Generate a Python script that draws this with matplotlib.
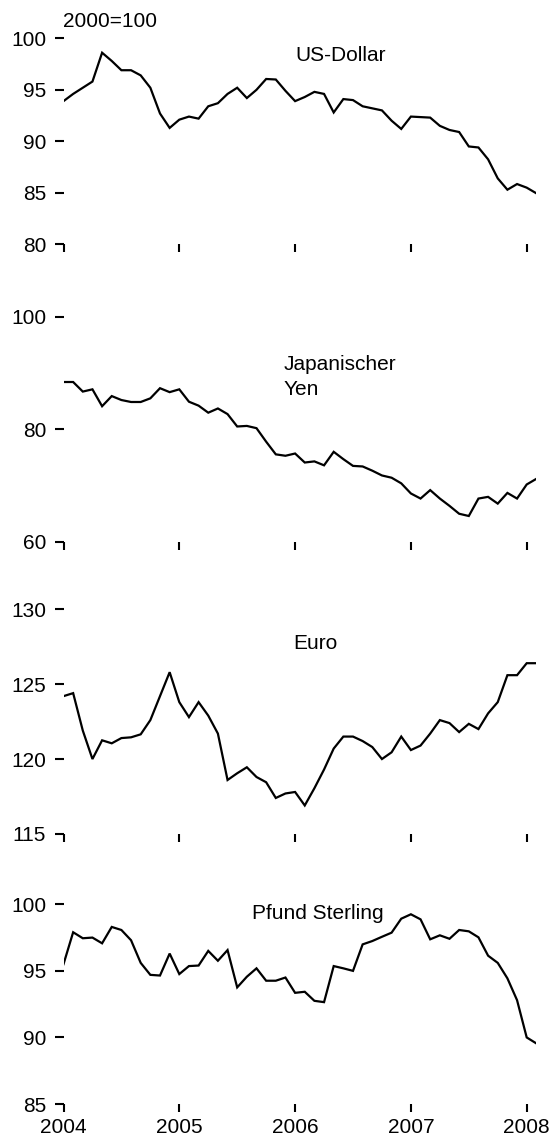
# Effektive Wechselkurse 2004-2008, vier Panels untereinander
import numpy as np
import matplotlib
matplotlib.use('Agg')
import matplotlib.pyplot as plt

plt.rcParams['font.family'] = ['Liberation Sans', 'DejaVu Sans']

# Monatswerte Jan 2004 - Feb 2008 (2000=100)
months = np.arange(50)
usd = [93.9, 94.6, 95.2, 95.8, 98.6, 97.8, 96.9, 96.9, 96.4, 95.2,
       92.7, 91.3, 92.1, 92.4, 92.2, 93.4, 93.7, 94.6, 95.2, 94.2,
       95.0, 96.05, 96.0, 94.9, 93.9, 94.3, 94.8, 94.6, 92.8, 94.1,
       94.0, 93.4, 93.2, 93.0, 92.0, 91.2, 92.4, 92.35, 92.3, 91.5,
       91.1, 90.9, 89.5, 89.4, 88.25, 86.4, 85.3, 85.85, 85.5, 84.95]
yen = [88.4, 88.4, 86.7, 87.1, 84.1, 85.9, 85.2, 84.85, 84.85, 85.5,
       87.3, 86.6, 87.1, 84.9, 84.2, 82.95, 83.7, 82.7, 80.5, 80.6,
       80.2, 77.8, 75.55, 75.3, 75.7, 74.1, 74.3, 73.6, 76.0, 74.7,
       73.5, 73.4, 72.65, 71.8, 71.4, 70.4, 68.6, 67.7, 69.2, 67.7,
       66.4, 65.0, 64.6, 67.7, 68.0, 66.8, 68.7, 67.7, 70.2, 71.2]
eur = [124.2, 124.4, 121.9, 120.0, 121.25, 121.05, 121.4, 121.45, 121.65, 122.6,
       124.2, 125.8, 123.8, 122.8, 123.8, 122.9, 121.7, 118.6, 119.05, 119.45,
       118.8, 118.45, 117.4, 117.7, 117.8, 116.9, 118.05, 119.3, 120.7, 121.5,
       121.5, 121.2, 120.8, 120.0, 120.45, 121.5, 120.6, 120.9, 121.7, 122.6,
       122.4, 121.8, 122.35, 122.0, 123.05, 123.8, 125.6, 125.6, 126.4, 126.4]
gbp = [95.5, 97.9, 97.45, 97.5, 97.07, 98.3, 98.07, 97.3, 95.6, 94.7,
       94.65, 96.3, 94.76, 95.36, 95.4, 96.5, 95.76, 96.56, 93.76, 94.56,
       95.19, 94.26, 94.26, 94.5, 93.35, 93.43, 92.75, 92.65, 95.36, 95.19,
       95.0, 96.99, 97.24, 97.56, 97.87, 98.92, 99.25, 98.87, 97.37, 97.67,
       97.41, 98.07, 97.97, 97.52, 96.14, 95.6, 94.44, 92.8, 90.0, 89.55]

years = [2004, 2005, 2006, 2007, 2008]

# Panel: Daten, y-Ticks, Beschriftung (Text, x, y)
panels = [
    (usd, [80, 85, 90, 95, 100], 'US-Dollar', 2006.0, 98.3),
    (yen, [60, 80, 100], 'Japanischer\nYen', 2005.9, 89.3),
    (eur, [115, 120, 125, 130], 'Euro', 2005.98, 127.7),
    (gbp, [85, 90, 95, 100], 'Pfund Sterling', 2005.63, 99.3),
]
# Pixelpositionen (oben, unten) der Achsen
rows_px = [(38.3, 244.3), (316.7, 541.9), (609.3, 833.9), (904.3, 1104.0)]

W, H = 552, 1140
fs = 15
fig = plt.figure(figsize=(W / 100, H / 100), dpi=100)

x = 2004 + months / 12.0
left_px = 63.5
width_px = 49 / 12 * 115.8

for k, ((vals, yt, label, lx, ly), (top, bot)) in enumerate(zip(panels, rows_px)):
    ax = fig.add_axes([left_px / W, 1 - bot / H, width_px / W, (bot - top) / H])
    ax.plot(x, vals, color='black', lw=1.6, solid_joinstyle='miter')
    ax.set_xlim(2004, 2004 + 49 / 12)
    ax.set_ylim(yt[0], yt[-1])
    for s in ax.spines.values():
        s.set_visible(False)
    ax.set_yticks(yt)
    ax.set_xticks(years)
    ax.tick_params(axis='y', direction='out', length=6.5, width=1.5, pad=6,
                   labelsize=fs, colors='black')
    ax.tick_params(axis='x', direction='out', length=6, width=1.5, pad=4,
                   labelsize=fs, colors='black')
    if k < 3:
        ax.set_xticklabels([])
    ax.text(lx, ly, label, fontsize=fs, va='center', ha='left', linespacing=1.35)
    if k == 0:
        ax.text(2004, 101.6, '2000=100', fontsize=fs, va='center', ha='left',
                clip_on=False)

fig.savefig('out.png', dpi=100)
